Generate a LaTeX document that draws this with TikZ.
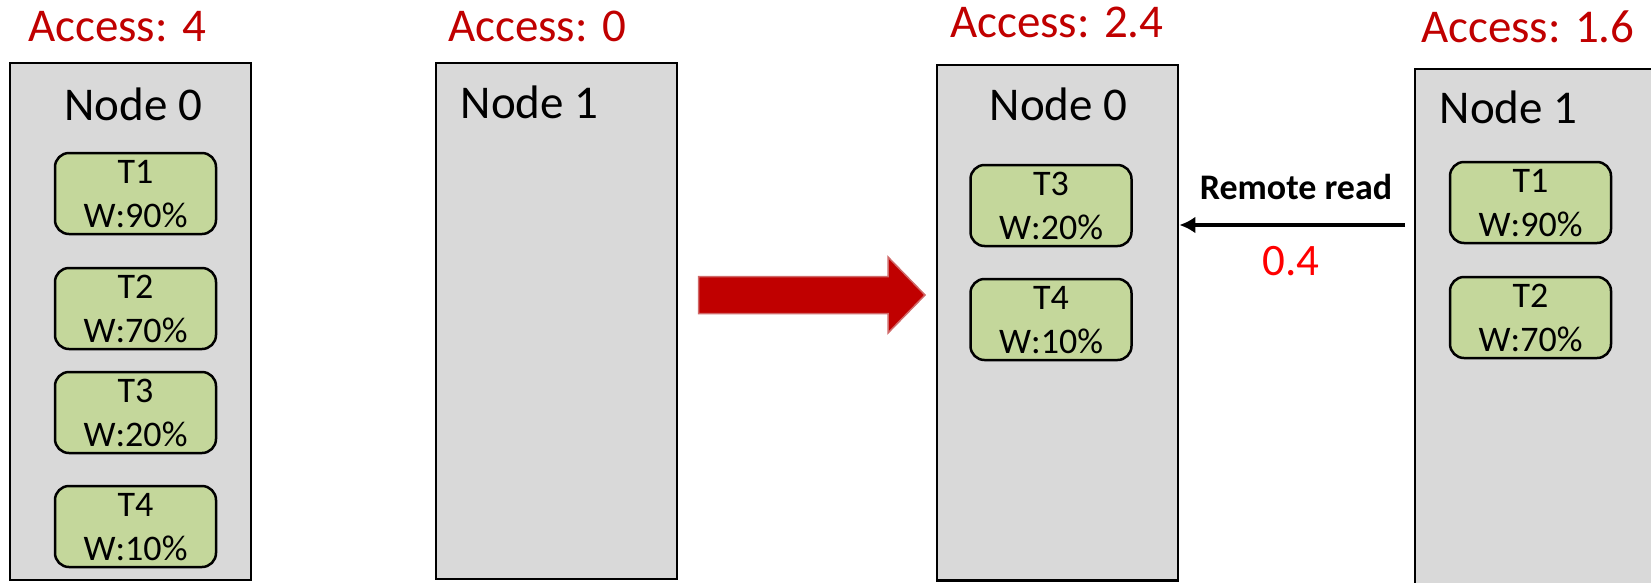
\documentclass[tikz,border=0pt]{standalone}
\usepackage{fontspec}
\setmainfont{Carlito}
\usetikzlibrary{arrows.meta,calc}
\definecolor{boxgray}{HTML}{D9D9D9}
\definecolor{taskgreen}{HTML}{C4D79B}
\definecolor{accred}{HTML}{C00000}
\definecolor{valred}{HTML}{FF0000}
\definecolor{arrowedge}{HTML}{D06A6A}
\tikzset{
  numabox/.style={draw=black, fill=boxgray, line width=2.8pt, rectangle, inner sep=0pt, minimum width=241pt},
  taskbox/.style={draw=black, fill=taskgreen, line width=2.5pt, rounded corners=14pt, inner sep=0pt, minimum width=161pt, minimum height=81pt},
  tasktext/.style={inner sep=0pt, anchor=base, font=\fontsize{36}{44}\selectfont},
  nodetitle/.style={inner sep=0pt, anchor=base west, font=\fontsize{47}{56}\selectfont},
  accesstext/.style={inner sep=0pt, anchor=base west, text=accred, font=\fontsize{47}{56}\selectfont},
  remote/.style={line width=4.5pt, -{Latex[length=16pt,width=17pt]}},
}
\newcommand{\mytask}[5]{% name, cx, top, label, weight
  \node[taskbox] (#1) at (#2,#3+40.5) {};
  \node[tasktext] (#1a) at (#2,#3+30) {#4};
  \node[tasktext] (#1b) at (#2,#3+74.5) {#5};
}
\begin{document}
\begin{tikzpicture}[x=1pt,y=-1pt]
\useasboundingbox (0,0) rectangle (1651,582);
\clip (0,0) rectangle (1651,582);
% big node boxes
\node[numabox, minimum height=517pt] (n0L) at (130.5,321.5) {};
\node[numabox, minimum height=516pt] (n1L) at (556.5,321) {};
\node[numabox, minimum height=515.5pt] (n0R) at (1057.5,322.75) {};
\node[numabox, minimum width=260pt, minimum height=516pt] (n1R) at (1545,327) {};
% access labels
\node[accesstext] (a0L) at (28,41) {Access: 4};
\node[accesstext] (a1L) at (448,41) {Access: 0};
\node[accesstext] (a0R) at (950,37) {Access: 2.4};
\node[accesstext] (a1R) at (1421,42.5) {Access: 1.6};
% node titles
\node[nodetitle] (t0L) at (64,120) {Node 0};
\node[nodetitle] (t1L) at (460.5,118) {Node 1};
\node[nodetitle] (t0R) at (989.5,120.6) {Node 0};
\node[nodetitle] (t1R) at (1439.5,123) {Node 1};
% tasks, left node 0
\mytask{la}{135.5}{153}{T1}{W:90\%}
\mytask{lb}{135.5}{268}{T2}{W:70\%}
\mytask{lc}{135.5}{372}{T3}{W:20\%}
\mytask{ld}{135.5}{486}{T4}{W:10\%}
% tasks, right node 0
\mytask{ra}{1051}{165}{T3}{W:20\%}
\mytask{rb}{1051}{279}{T4}{W:10\%}
% tasks, right node 1
\mytask{rc}{1530.5}{162}{T1}{W:90\%}
\mytask{rd}{1530.5}{277}{T2}{W:70\%}
% big red arrow
\coordinate (ba1) at (698.5,276.5);
\coordinate (ba2) at (888,276.5);
\coordinate (ba3) at (888,257);
\coordinate (ba4) at (925,295);
\coordinate (ba5) at (888,333);
\coordinate (ba6) at (888,313.5);
\coordinate (ba7) at (698.5,313.5);
\fill[accred, draw=arrowedge, line width=1.5pt, line join=miter]
  (ba1) -- (ba2) -- (ba3) -- (ba4) -- (ba5) -- (ba6) -- (ba7) -- cycle;
% remote read
\coordinate (rs) at (1405,225);
\draw[remote] (rs) -- (n0R.east |- rs);
\node[inner sep=0pt, anchor=base, font=\fontsize{36}{44}\selectfont\bfseries] (rr) at (1296,199) {Remote read};
\node[inner sep=0pt, anchor=base, text=valred, font=\fontsize{45}{54}\selectfont] (rv) at (1291,275) {0.4};
\end{tikzpicture}
\end{document}
